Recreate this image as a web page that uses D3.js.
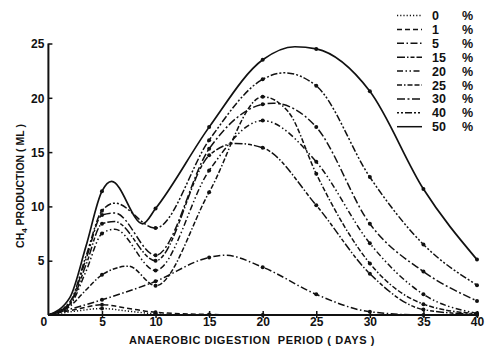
<!DOCTYPE html>
<html><head><meta charset="utf-8">
<script src="https://cdn.jsdelivr.net/npm/d3@7"></script>
<style>
body{margin:0;background:#fff;}
svg{display:block;}
text{font-family:"Liberation Sans","DejaVu Sans",sans-serif;font-weight:bold;fill:#111;}
</style></head>
<body><svg id="c" width="485" height="354"></svg>
<script>
// ---- data ----
const seriesNames = ["0", "1", "5", "15", "20", "25", "30", "40", "50"];
const xTicks = [0, 5, 10, 15, 20, 25, 30, 35, 40];
const yTicks = [5, 10, 15, 20, 25];
// [day, CH4 ml]
const s0  = [[0,0],[2.5,0.35],[5,0.6],[7.5,0.35],[10,0.1],[13,0],[16,0]];
const s1  = [[0,0],[2.5,0.5],[5,0.95],[7.5,0.6],[10,0.25],[15,0.05],[20,0]];
const s5  = [[0,0],[5,1.4],[10,3.1],[15,5.3],[16.5,5.5],[20,4.4],[25,1.9],[30,0.3],[35,0],[40,0]];
const s15 = [[0,0],[2,1.0],[3.5,4.6],[5,8.4],[6.2,8.6],[10,5.0],[15,14.7],[17.5,15.8],[20,15.4],[25,10.1],[30,3.8],[35,0.5],[40,0.05]];
const s20 = [[0,0],[2,0.9],[3.5,4.0],[5,7.5],[6.2,7.9],[10,4.1],[15,13.3],[20,17.9],[25,14.1],[30,6.6],[35,1.9],[40,0.15]];
const s25 = [[0,0],[2,0.8],[3.5,2.3],[5,3.7],[7.5,4.5],[10,2.7],[15,11.3],[20,20.1],[22.4,18.7],[25,13.0],[30,4.75],[35,1.0],[40,0.1]];
const s30 = [[0,0],[2,1.1],[3.5,5.1],[5,9.2],[6.2,9.4],[10,5.5],[15,15.3],[20,19.4],[21,19.5],[25,17.3],[30,8.4],[35,4.0],[40,1.3]];
const s40 = [[0,0],[2,1.2],[3.5,5.4],[5,9.6],[6.2,10.3],[10,8.0],[15,16.1],[20,21.7],[22,22.3],[25,21.1],[30,12.7],[35,6.5],[40,2.75]];
const s50 = [[0,0],[2,1.6],[3.5,6.3],[5,11.4],[5.9,12.3],[8.8,8.4],[10,9.8],[15,17.3],[20,23.5],[23,24.7],[25,24.5],[30,20.6],[35,11.6],[40,5.1]];
const seriesData = [s0, s1, s5, s15, s20, s25, s30, s40, s50];
const dashes = ["1.2,2", "5,3", "7,2.5,1.5,2.5", "8,2,1.5,2,4,2", "6,2.5,1.5,2.5,1.5,2.5", "5,2,1.5,2,5,2", "8,2.5,2,2.5", "2,2,2,2,7,2", null];

// ---- chart ----
const svg = d3.select("#c");
const x = d3.scaleLinear().domain([0, 40]).range([48.4, 477]);
const y = d3.scaleLinear().domain([0, 25]).range([315, 43.5]);

const line = d3.line().x(d => x(d[0])).y(d => y(d[1])).curve(d3.curveMonotoneX);

seriesData.forEach((s, i) => {
  svg.append("path").attr("d", line(s)).attr("fill", "none")
    .attr("stroke", "#111").attr("stroke-width", i === 8 ? 1.7 : 1.5)
    .attr("stroke-dasharray", dashes[i]);
  svg.selectAll(null).data(s.filter(d => d[0] > 0 && d[0] % 5 === 0)).enter()
    .append("circle").attr("cx", d => x(d[0])).attr("cy", d => y(d[1])).attr("r", 2).attr("fill", "#111");
});

// axes
const xAxis = d3.axisBottom(x).tickValues(xTicks).tickSize(0).tickPadding(0).tickFormat(d3.format("d"));
const gx = svg.append("g").attr("transform", "translate(0,315)").call(xAxis);
gx.select(".domain").remove();
gx.selectAll(".tick line").remove();
gx.selectAll(".tick").append("line").attr("y1", -4).attr("y2", 3).attr("stroke", "#111").attr("stroke-width", 1.5)
  .filter(d => d === 0).remove();
gx.selectAll(".tick text").attr("y", 2).attr("font-size", 12).attr("fill", "#111");
gx.selectAll(".tick text").filter(d => d === 0).attr("dx", -5);

const yAxis = d3.axisLeft(y).tickValues(yTicks).tickSize(0).tickPadding(4).tickFormat(d3.format("d"));
const gy = svg.append("g").attr("transform", "translate(48.4,0)").call(yAxis);
gy.select(".domain").remove();
gy.selectAll(".tick").append("line").attr("x1", 0).attr("x2", 4).attr("stroke", "#111").attr("stroke-width", 1.5);
gy.selectAll(".tick text").attr("font-size", 12).attr("fill", "#111").attr("dy", "0.35em");

svg.append("line").attr("x1", x(0)).attr("x2", x(40)).attr("y1", y(0)).attr("y2", y(0)).attr("stroke", "#111").attr("stroke-width", 2);
svg.append("line").attr("x1", x(0)).attr("x2", x(0)).attr("y1", y(0)).attr("y2", y(25)).attr("stroke", "#111").attr("stroke-width", 2);

// axis titles
svg.append("text").attr("x", 252).attr("y", 344).attr("text-anchor", "middle").attr("font-size", 11)
  .attr("letter-spacing", 0.6).style("white-space", "pre").text("ANAEROBIC DIGESTION  PERIOD ( DAYS )");
const yt = svg.append("text").attr("transform", "translate(24,186) rotate(-90)").attr("text-anchor", "middle").attr("font-size", 10.5);
yt.append("tspan").text("CH");
yt.append("tspan").attr("font-size", 8).attr("dy", 3).text("4");
yt.append("tspan").attr("dy", -3).text(" PRODUCTION ( ML )");

// legend
const lg = svg.append("g");
seriesNames.forEach((n, i) => {
  const yy = 15.5 + i * 13.9;
  lg.append("line").attr("x1", 397).attr("x2", 422).attr("y1", yy).attr("y2", yy)
    .attr("stroke", "#111").attr("stroke-width", 1.5).attr("stroke-dasharray", dashes[i]);
  lg.append("text").attr("x", 432).attr("y", yy + 4.5).attr("font-size", 12.5).text(n);
  lg.append("text").attr("x", 462).attr("y", yy + 4.5).attr("font-size", 12.5).text("%");
});
</script></body></html>
